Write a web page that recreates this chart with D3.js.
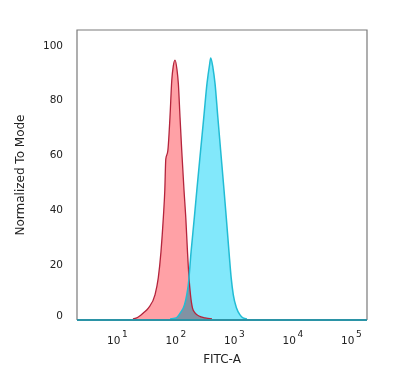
<!DOCTYPE html>
<html>
<head>
<meta charset="utf-8">
<script src="https://cdn.jsdelivr.net/npm/d3@7"></script>
<style>
  body { margin: 0; background: #fff; }
  svg { display: block; font-family: "DejaVu Sans", sans-serif; }
</style>
</head>
<body>
<div id="chart"></div>
<script>
// isotype control (red) - FITC-A values and % of mode
const isoX = [19.5, 22.6, 29.3, 35.7, 46.4, 52.8, 58.7, 64.4, 68.3, 71.0, 76.8, 83.7, 89.9, 95.3, 102,
              110.4, 116.2, 124.2, 132.8, 145.3, 156, 166.8, 177, 187.7, 203.2, 224, 262, 332, 437];
const isoY = [0, 0.4, 2.2, 4.0, 8.8, 15.0, 24.5, 36.9, 47.1, 58.4, 61.3, 73.7, 87.2, 92.3, 94.5,
              90.9, 86.1, 73.7, 61.7, 47.1, 36.9, 24.5, 15.0, 8.8, 4.0, 2.2, 1.1, 0.4, 0];

// antibody stained (cyan)
const stainX = [84, 106, 129, 148, 162, 172, 192, 218, 241, 280, 317, 360, 397, 416,
                455, 492, 550, 614, 702, 768, 854, 931, 1012, 1148, 1318, 1484, 1735];
const stainY = [0, 0.4, 2.6, 5.1, 8.8, 12.4, 24.5, 36.9, 47.1, 61.7, 73.7, 86.1, 92.7, 95.3,
                91.6, 86.1, 73.7, 61.7, 47.1, 36.9, 24.5, 15.0, 8.8, 4.0, 1.5, 0.4, 0];

const yTicks = [0, 20, 40, 60, 80, 100];
const xDecades = [1, 2, 3, 4, 5];

const width = 406, height = 377;
const plot = { left: 77, right: 367, top: 30, bottom: 320 };

const svg = d3.select("#chart").append("svg")
    .attr("width", width)
    .attr("height", height);

const x = d3.scaleLog()
    .domain([Math.pow(10, 1 - 39 / 58.5), Math.pow(10, 1 + 251 / 58.5)])
    .range([plot.left, plot.right]);

const y = d3.scaleLinear()
    .domain([0, 100])
    .range([319, 45]);

const area = d3.area()
    .x(d => x(d[0]))
    .y0(y(0))
    .y1(d => y(d[1]))
    .curve(d3.curveMonotoneX);

const line = d3.line()
    .x(d => x(d[0]))
    .y(d => y(d[1]))
    .curve(d3.curveMonotoneX);

const iso = isoX.map((v, i) => [v, isoY[i]]);
const stain = stainX.map((v, i) => [v, stainY[i]]);

// fills, multiplied so the overlap goes grey-blue
svg.append("path")
    .datum(stain)
    .attr("d", area)
    .style("fill", "#82e8fb")
    .style("mix-blend-mode", "multiply");

svg.append("path")
    .datum(iso)
    .attr("d", area)
    .style("fill", "#ffa1a6")
    .style("mix-blend-mode", "multiply");

svg.append("path")
    .datum(iso)
    .attr("d", line)
    .style("fill", "none")
    .style("stroke", "#b4243c")
    .style("stroke-width", 1.3);

svg.append("path")
    .datum(stain)
    .attr("d", line)
    .style("fill", "none")
    .style("stroke", "#22bcd4")
    .style("stroke-width", 1.5);

// frame
svg.append("path")
    .attr("d", `M${plot.left},${plot.bottom}V${plot.top}H${plot.right}V${plot.bottom}`)
    .style("fill", "none")
    .style("stroke", "#7a7a7a")
    .style("stroke-width", 1.2);

svg.append("line")
    .attr("x1", plot.left).attr("x2", plot.right)
    .attr("y1", plot.bottom).attr("y2", plot.bottom)
    .style("stroke", "#2b93a6")
    .style("stroke-width", 2);

// y tick labels
svg.selectAll(".ytick")
    .data(yTicks)
    .enter()
    .append("text")
    .attr("class", "ytick")
    .attr("x", 63)
    .attr("y", d => d === 0 ? y(d) - 4 : y(d))
    .attr("dy", "0.35em")
    .attr("text-anchor", "end")
    .style("font-size", "10.5px")
    .style("fill", "#222")
    .text(d => d);

// x tick labels: 10 with superscript exponent
const xt = svg.selectAll(".xtick")
    .data(xDecades)
    .enter()
    .append("text")
    .attr("class", "xtick")
    .attr("x", d => x(Math.pow(10, d)) - 9)
    .attr("y", 344)
    .style("font-size", "10.5px")
    .style("fill", "#222");
xt.append("tspan").text("10");
xt.append("tspan")
    .attr("dy", -7)
    .attr("dx", 1.5)
    .style("font-size", "9px")
    .text(d => d);

svg.append("text")
    .attr("x", 222)
    .attr("y", 363)
    .attr("text-anchor", "middle")
    .style("font-size", "12px")
    .style("fill", "#222")
    .text("FITC-A");

svg.append("text")
    .attr("transform", "translate(24,175) rotate(-90)")
    .attr("text-anchor", "middle")
    .style("font-size", "12px")
    .style("fill", "#222")
    .text("Normalized To Mode");
</script>
</body>
</html>
